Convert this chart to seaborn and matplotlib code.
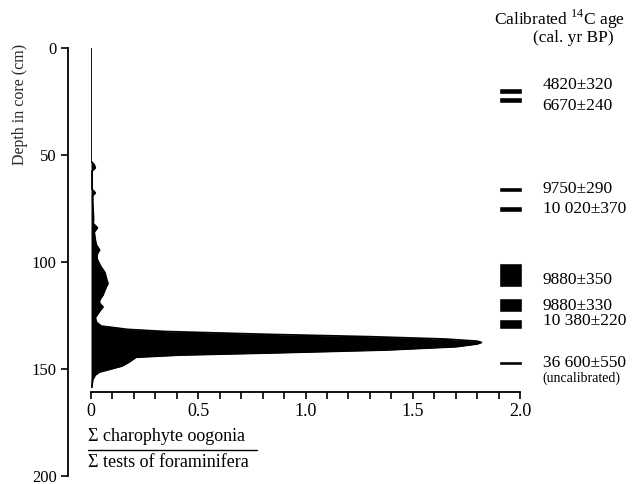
import matplotlib
matplotlib.use("Agg")
import matplotlib.pyplot as plt
import seaborn as sns
from matplotlib.ticker import MultipleLocator

# charophyte / foraminifera ratio down the core
depth_cm = [0, 53, 54.5, 56, 57.5, 66, 67.7, 69, 72, 80, 82, 84, 86, 89.7, 92, 94.4,
            96, 98.3, 100, 102, 105, 107, 110, 113, 115.4, 117.8, 119.3, 121, 123,
            126, 128, 129.4, 130.0, 130.6, 131.5, 132.5, 133.8, 134.9, 136.0, 137.0,
            137.6, 138.3, 139.6, 141.1, 142.4, 143.5, 144.5, 146.6, 148.6, 150.5,
            151.4, 152.8, 155, 158.5]
ratio = [0, 0, 0.015, 0.02, 0.005, 0.005, 0.02, 0.008, 0.008, 0.012, 0.01, 0.03,
         0.015, 0.02, 0.025, 0.04, 0.03, 0.027, 0.035, 0.045, 0.065, 0.07, 0.079,
         0.065, 0.056, 0.04, 0.04, 0.056, 0.04, 0.02, 0.025, 0.04, 0.05, 0.10, 0.17,
         0.35, 0.82, 1.3, 1.65, 1.80, 1.82, 1.80, 1.70, 1.38, 0.88, 0.41, 0.21, 0.18,
         0.145, 0.074, 0.04, 0.02, 0.008, 0.004]

# dated samples: top and bottom depth of each sample (cm)
date_top = [18.8, 23.0, 64.8, 73.8, 100.6, 116.8, 126.8, 146.1]
date_bottom = [21.6, 25.8, 67.3, 76.5, 111.5, 123.5, 131.4, 148.1]
date_labels = ["4820\u00b1320", "6670\u00b1240", "9750\u00b1290", "10 020\u00b1370",
               "9880\u00b1350", "9880\u00b1330", "10 380\u00b1220", "36 600\u00b1550"]
label_depth = [17.2, 27.0, 66.0, 75.2, 108.2, 120.7, 127.6, 147.3]

sns.set_theme(style="ticks")
plt.rcParams.update({
    "font.family": ["Liberation Serif", "DejaVu Serif"],
    "mathtext.fontset": "custom",
    "mathtext.rm": "Liberation Serif",
    "text.color": "black",
    "axes.edgecolor": "black",
    "xtick.color": "black",
    "ytick.color": "black",
})

fig = plt.figure(figsize=(6.37, 4.84), dpi=100)
ax = fig.add_axes([91 / 637, 8 / 484, 429 / 637, 428 / 484])

ax.fill_betweenx(depth_cm, 0, ratio, color="black", linewidth=0)
sns.lineplot(x=ratio, y=depth_cm, orient="y", sort=False, color="black",
             linewidth=1.3, ax=ax)

# date bars and labels
heights = [b - t for t, b in zip(date_top, date_bottom)]
ax.barh(date_top, 0.107, left=1.90, height=heights, align="edge",
        color="black", clip_on=False)
for d, lab in zip(label_depth, date_labels):
    ax.text(2.105, d, lab, fontsize=12.5, va="center", ha="left")
ax.text(2.105, 154.3, "(uncalibrated)", fontsize=10, va="center", ha="left")
ax.text(2.49, -13.2, "Calibrated $^{14}$C age", fontsize=12.5, va="center",
        ha="right", clip_on=False)
ax.text(2.435, -4.6, "(cal. yr BP)", fontsize=12.5, va="center", ha="right",
        clip_on=False)

ax.set_xlim(0, 2)
ax.set_ylim(200, 0)
ax.xaxis.set_minor_locator(MultipleLocator(0.1))
ax.yaxis.set_major_locator(MultipleLocator(50))
ax.set_xticks([0, 0.5, 1.0, 1.5, 2.0])
ax.set_xticklabels(["0", "0.5", "1.0", "1.5", "2.0"])

for side in ["top", "right"]:
    ax.spines[side].set_visible(False)
ax.spines["left"].set_position(("outward", 16.6))
ax.spines["bottom"].set_position(("data", 160.8))
ax.spines["left"].set_linewidth(1.3)
ax.spines["bottom"].set_linewidth(1.3)

ax.tick_params(axis="x", which="both", direction="out", length=5, width=1.2,
               labelsize=13, pad=3)
ax.tick_params(axis="y", which="major", direction="out", length=5, width=1.2,
               labelsize=12, pad=3)

ax.set_ylabel("Depth in core (cm)", fontsize=11.5)
ax.yaxis.set_label_coords(-0.147, 0.867)
ax.set_xlabel("")

# ratio label as a fraction
ax.text(-0.014, 181.4, "\u03a3 charophyte oogonia", fontsize=13, va="center",
        ha="left", clip_on=False)
ax.plot([-0.014, 0.775], [187.9, 187.9], color="black", linewidth=1.0, clip_on=False)
ax.text(-0.014, 193.5, "\u03a3 tests of foraminifera", fontsize=13, va="center",
        ha="left", clip_on=False)

fig.savefig("out.png", dpi=100, facecolor="white")
